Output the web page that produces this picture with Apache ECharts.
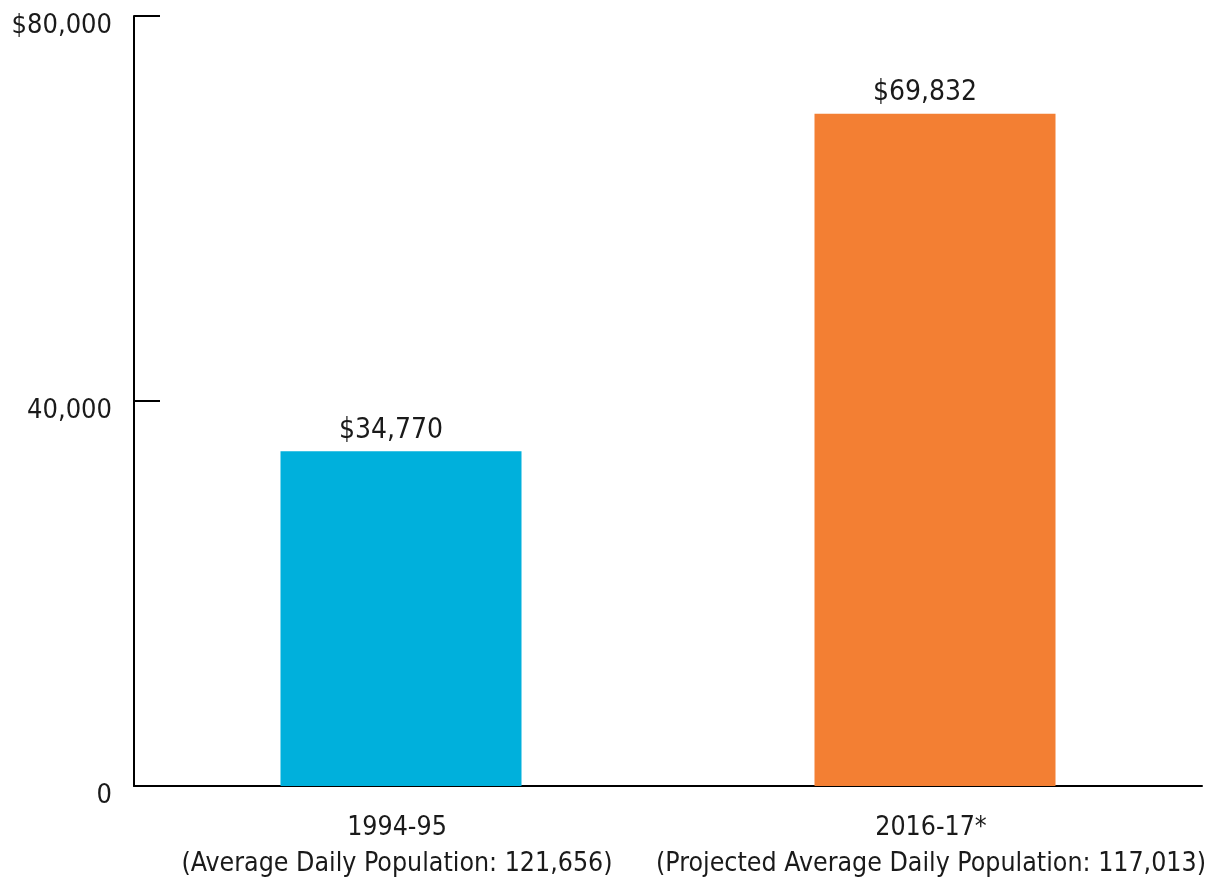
<!DOCTYPE html>
<html>
<head>
<meta charset="utf-8">
<script src="https://cdn.jsdelivr.net/npm/echarts@6/dist/echarts.min.js"></script>
<style>
html,body{margin:0;padding:0;background:#fff;}
#chart{width:1207px;height:884px;}
</style>
</head>
<body>
<div id="chart"></div>
<script>
const categories = ['1994-95\n(Average Daily Population: 121,656)', '2016-17*\n(Projected Average Daily Population: 117,013)'];
const values = [34770, 69832];
const barColors = ['#00B0DC', '#F37F33'];
const yTicks = { 0: '0', 40000: '40,000', 80000: '$80,000' };

const FONT = '"DejaVu Sans Condensed", "Liberation Sans Narrow", "Roboto", sans-serif';

const chart = echarts.init(document.getElementById('chart'), null, { renderer: 'canvas' });
chart.setOption({
  animation: false,
  backgroundColor: '#ffffff',
  grid: { left: 134, right: 5, top: 16, bottom: 98, containLabel: false, outerBoundsMode: 'none' },
  xAxis: {
    type: 'category',
    data: categories,
    axisLine: { show: true, lineStyle: { color: '#000', width: 2 } },
    axisTick: { show: false },
    axisLabel: {
      color: '#1a1a1a', fontFamily: FONT, fontSize: 26.5, lineHeight: 36, margin: 24,
      interval: 0, hideOverlap: false,
      formatter: v => v.split('\n').map(s => '{c|' + s + '}').join('\n'),
      rich: { c: { color: '#1a1a1a', fontFamily: FONT, fontSize: 26.5, lineHeight: 36, padding: [0, 8, 0, 0] } }
    }
  },
  yAxis: {
    type: 'value',
    min: 0, max: 80000, interval: 40000,
    splitLine: { show: false },
    axisLine: { show: true, lineStyle: { color: '#000', width: 2 } },
    axisTick: { show: true, inside: true, length: 26, lineStyle: { color: '#000', width: 2 } },
    axisLabel: {
      color: '#1a1a1a', fontFamily: FONT, fontSize: 27, margin: 22,
      formatter: v => yTicks[v] !== undefined ? '{t|' + yTicks[v] + '}' : '',
      rich: { t: { color: '#1a1a1a', fontFamily: FONT, fontSize: 27, padding: [20, 0, 0, 0] } }
    }
  },
  series: [{
    type: 'bar',
    barWidth: 241,
    data: values.map((v, i) => ({ value: v, itemStyle: { color: barColors[i] } })),
    label: {
      show: true, position: 'top', distance: 7, offset: [-10, 0],
      color: '#1a1a1a', fontFamily: FONT, fontSize: 28,
      formatter: p => '$' + p.value.toLocaleString('en-US')
    }
  }]
});
</script>
</body>
</html>
